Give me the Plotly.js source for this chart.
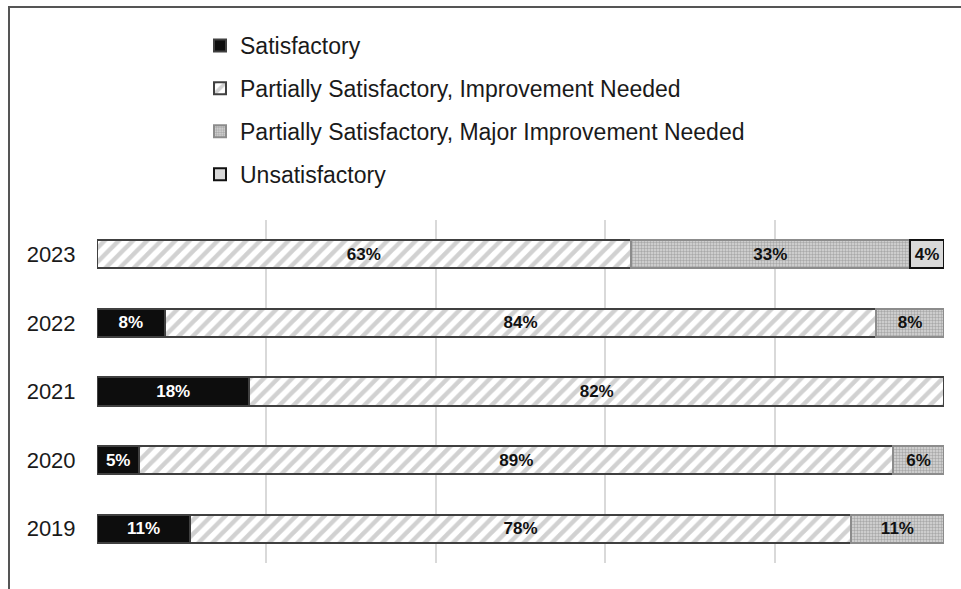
<!DOCTYPE html>
<html>
<head>
<meta charset="utf-8">
<script src="https://cdn.plot.ly/plotly-3.0.1.min.js"></script>
<style>
html,body{margin:0;padding:0;background:#fff;}
#chart{width:961px;height:589px;}
</style>
</head>
<body>
<div id="chart"></div>
<script>
var years = ['2019', '2020', '2021', '2022', '2023'];
var satisfactory = [11, 5, 18, 8, 0];
var partialImprovement = [78, 89, 82, 84, 63];
var partialMajor = [11, 6, 0, 8, 33];
var unsatisfactory = [0, 0, 0, 0, 4];

var seriesNames = [
  'Satisfactory',
  'Partially Satisfactory, Improvement Needed',
  'Partially Satisfactory, Major Improvement Needed',
  'Unsatisfactory'
];

function vals(arr){ return arr.map(function(v){ return v > 0 ? v : null; }); }
function labels(arr){ return arr.map(function(v){ return v > 0 ? v + '%' : ''; }); }

var FONT = 'Arial, "Liberation Sans", sans-serif';

function barTrace(name, arr, marker, textColor, group){
  return {
    type: 'bar',
    orientation: 'h',
    name: name,
    y: years,
    x: vals(arr),
    text: labels(arr),
    texttemplate: '%{text}',
    textposition: 'inside',
    insidetextanchor: 'middle',
    textangle: 0,
    constraintext: 'none',
    textfont: {family: FONT, size: 17, color: textColor, weight: 'bold'},
    marker: marker,
    legendgroup: group,
    hoverinfo: 'name+x'
  };
}

var traces = [
  barTrace(seriesNames[0], satisfactory,
    {color: '#0d0d0d', line: {color: '#404040', width: 2}}, '#ffffff', 'g1'),
  barTrace(seriesNames[1], partialImprovement,
    {color: '#ffffff', line: {color: '#404040', width: 2},
     pattern: {shape: '/', fgcolor: '#a3a3a3', bgcolor: '#ffffff', size: 10, solidity: 0.45, fillmode: 'overlay'}}, '#111111', 'g2'),
  barTrace(seriesNames[2], partialMajor,
    {color: '#d8d8d8', line: {color: '#8c8c8c', width: 2},
     pattern: {shape: '.', fgcolor: '#7a7a7a', bgcolor: '#d8d8d8', size: 3, solidity: 0.5, fillmode: 'overlay'}}, '#111111', 'g3'),
  barTrace(seriesNames[3], unsatisfactory,
    {color: '#d9d9d9', line: {color: '#111111', width: 2}}, '#111111', 'g4')
];

var L = 97, R = 17, T = 220, B = 26;
var W = 961 - L - R, H = 589 - T - B;
function px(x){ return (x - L) / W; }
function py(y){ return (589 - B - y) / H; }

var layout = {
  width: 961, height: 589,
  margin: {l: L, r: R, t: T, b: B, pad: 0},
  paper_bgcolor: '#ffffff',
  plot_bgcolor: '#ffffff',
  barmode: 'stack',
  bargap: 0.59,
  showlegend: true,
  legend: {
    x: px(200), y: py(24), xanchor: 'left', yanchor: 'top',
    orientation: 'v',
    traceorder: 'grouped',
    tracegroupgap: 10,
    font: {family: FONT, size: 23, color: '#1a1a1a'},
    itemwidth: 30,
    bgcolor: 'rgba(0,0,0,0)'
  },
  xaxis: {
    range: [0, 100],
    dtick: 20,
    tick0: 0,
    showticklabels: false,
    showgrid: true,
    gridcolor: '#d9d9d9',
    gridwidth: 2,
    zeroline: false,
    showline: false,
    fixedrange: true
  },
  yaxis: {
    type: 'category',
    categoryorder: 'array',
    categoryarray: years,
    showgrid: false,
    zeroline: false,
    showline: false,
    ticks: 'outside',
    ticklen: 16,
    tickcolor: 'rgba(0,0,0,0)',
    tickfont: {family: FONT, size: 22, color: '#1a1a1a'},
    fixedrange: true
  },
  shapes: [
    {type: 'line', xref: 'paper', yref: 'paper', x0: px(8), x1: px(961), y0: py(7), y1: py(7),
     line: {color: '#555555', width: 2}},
    {type: 'line', xref: 'paper', yref: 'paper', x0: px(9), x1: px(9), y0: py(6), y1: py(589),
     line: {color: '#555555', width: 2}}
  ]
};

Plotly.newPlot('chart', traces, layout, {displayModeBar: false, staticPlot: true});
</script>
</body>
</html>
